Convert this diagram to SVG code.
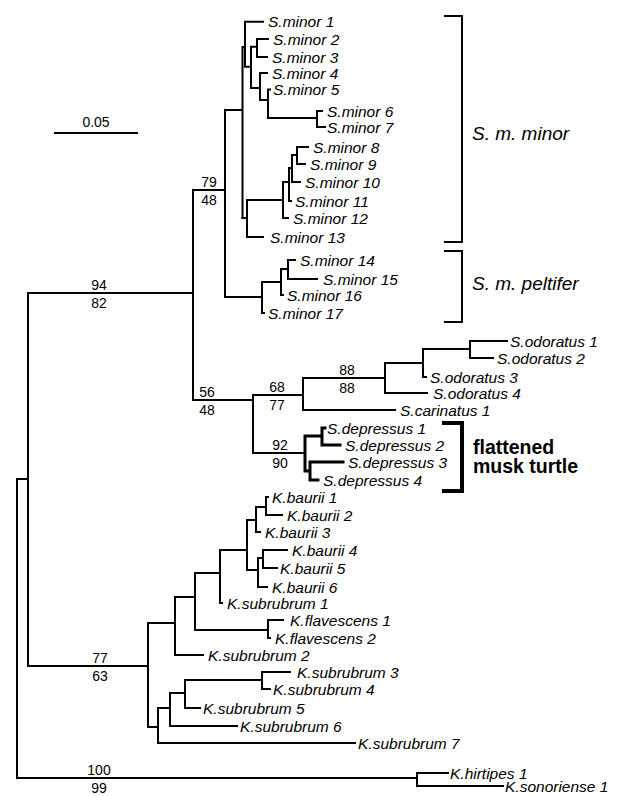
<svg xmlns="http://www.w3.org/2000/svg" width="624" height="796" viewBox="0 0 624 796">
<style>
.t{font-family:"Liberation Sans",Arial,sans-serif;font-size:15.5px;font-style:italic;fill:#000}
.b{font-family:"Liberation Sans",Arial,sans-serif;font-size:14px;fill:#000;text-anchor:middle}
.c{font-family:"Liberation Sans",Arial,sans-serif;font-size:19px;font-style:italic;fill:#000}
.f{font-family:"Liberation Sans",Arial,sans-serif;font-size:19.5px;font-weight:bold;fill:#000}
.e{fill:none;stroke:#000;stroke-width:2;stroke-linecap:square}
.k{fill:none;stroke:#000;stroke-width:3;stroke-linecap:square}
</style>
<rect width="624" height="796" fill="#fff"/>
<g id="connectors">
<path class="e" d="M17,479V778M17,479H28M28,293V666M28,293H193M28,666H148M17,778H417M417,773V786M417,773H448M417,786H503"/>
<path class="e" d="M193,190V400M193,190H225M225,110V297M225,110H242.5M242.5,47V218M242.5,47H245M245,21.7V66.7M245,21.7H263M245,66.7H251M251,46.7V88M251,46.7H257M257,39V57M257,39H268M257,57H267M251,88H260M260,73V100M260,73H267M260,100H268M268,89.5V118M268,89.5H270M268,118H317M317,111V127M317,111H322M317,127H325"/>
<path class="e" d="M242.5,218H247M247,200V237M247,237H263M247,200H283M283,182V218M283,218H288M283,182H289M289,168V201M289,201H291M289,168H292M292,155V182M292,182H300M292,155H297M297,147V164M297,147H308M297,164H305"/>
<path class="e" d="M225,297H262M262,282V313M262,313H264M262,282H281M281,269V295M281,295H283M281,269H288M288,260V279M288,260H295M288,279H317"/>
<path class="e" d="M193,400H253M253,395V453M253,395H303M303,378V410M303,410H395M303,378H385M385,363V393M385,393H427M385,363H423M423,349V377M423,377H426M423,349H470M470,341V358M470,341H507M470,358H493M253,453H305"/>
<path class="k" d="M305,436V471M305,436H322M322,428V445M322,428H325M322,445H340M305,471H310M310,462V480M310,462H343M310,480H318"/>
<path class="e" d="M148,623V727M148,623H175M175,597V655M175,655H203M175,597H195M195,573V630M195,630H268M268,620V638M268,620H283M268,638H270M195,573H220M220,550V603M220,603H222M220,550H247M247,520V570M247,520H256M256,507V532M256,532H260M256,507H266M266,497V515M266,497H268M266,515H282M247,570H258M258,558V587M258,587H267M258,558H263M263,550V568M263,550H287M263,568H277"/>
<path class="e" d="M148,727H158M158,708V743M158,743H355M158,708H170M170,693V726M170,726H237M170,693H185M185,680V708M185,708H200M185,680H262M262,672V689M262,672H290M262,689H270"/>
<path class="e" d="M445,16H462V242H445M445,251H462V322H445"/>
<path fill="none" stroke="#000" stroke-width="4" d="M442,423H462V491H442"/>
<path class="e" d="M55,133H137"/>
</g>
<g id="scale"><text class="b" x="96" y="127">0.05</text></g>
<g id="bs94"><text class="b" x="99" y="290">94</text><text class="b" x="99" y="308">82</text></g>
<g id="bs79"><text class="b" x="209" y="187">79</text><text class="b" x="209" y="205">48</text></g>
<g id="bs56"><text class="b" x="207" y="397">56</text><text class="b" x="207" y="415">48</text></g>
<g id="bs68"><text class="b" x="277" y="392">68</text><text class="b" x="277" y="410">77</text></g>
<g id="bs88"><text class="b" x="347" y="375">88</text><text class="b" x="347" y="393">88</text></g>
<g id="bs92"><text class="b" x="280" y="450">92</text><text class="b" x="280" y="468">90</text></g>
<g id="bs77"><text class="b" x="100" y="663">77</text><text class="b" x="100" y="681">63</text></g>
<g id="bs100"><text class="b" x="99" y="775">100</text><text class="b" x="99" y="793">99</text></g>
<g id="tip-sminor1"><text class="t" x="268" y="27.2">S.minor 1</text></g>
<g id="tip-sminor2"><text class="t" x="273" y="44.5">S.minor 2</text></g>
<g id="tip-sminor3"><text class="t" x="272" y="62.5">S.minor 3</text></g>
<g id="tip-sminor4"><text class="t" x="272" y="78.5">S.minor 4</text></g>
<g id="tip-sminor5"><text class="t" x="273" y="95">S.minor 5</text></g>
<g id="tip-sminor6"><text class="t" x="327" y="116.5">S.minor 6</text></g>
<g id="tip-sminor7"><text class="t" x="327" y="132.5">S.minor 7</text></g>
<g id="tip-sminor8"><text class="t" x="313" y="152.5">S.minor 8</text></g>
<g id="tip-sminor9"><text class="t" x="310" y="169.5">S.minor 9</text></g>
<g id="tip-sminor10"><text class="t" x="305" y="187.5">S.minor 10</text></g>
<g id="tip-sminor11"><text class="t" x="295" y="206.5">S.minor 11</text></g>
<g id="tip-sminor12"><text class="t" x="293" y="223.5">S.minor 12</text></g>
<g id="tip-sminor13"><text class="t" x="270" y="242.5">S.minor 13</text></g>
<g id="tip-sminor14"><text class="t" x="300" y="265.5">S.minor 14</text></g>
<g id="tip-sminor15"><text class="t" x="323" y="284.5">S.minor 15</text></g>
<g id="tip-sminor16"><text class="t" x="287" y="300.5">S.minor 16</text></g>
<g id="tip-sminor17"><text class="t" x="268" y="318.5">S.minor 17</text></g>
<g id="tip-sodoratus1"><text class="t" x="510" y="346.5">S.odoratus 1</text></g>
<g id="tip-sodoratus2"><text class="t" x="497" y="363.5">S.odoratus 2</text></g>
<g id="tip-sodoratus3"><text class="t" x="430" y="382.5">S.odoratus 3</text></g>
<g id="tip-sodoratus4"><text class="t" x="433" y="398.5">S.odoratus 4</text></g>
<g id="tip-scarinatus1"><text class="t" x="400" y="415.5">S.carinatus 1</text></g>
<g id="tip-sdepressus1"><text class="t" x="327" y="433.5">S.depressus 1</text></g>
<g id="tip-sdepressus2"><text class="t" x="345" y="450.5">S.depressus 2</text></g>
<g id="tip-sdepressus3"><text class="t" x="348" y="467.5">S.depressus 3</text></g>
<g id="tip-sdepressus4"><text class="t" x="323" y="485.5">S.depressus 4</text></g>
<g id="tip-kbaurii1"><text class="t" x="272" y="502.5">K.baurii 1</text></g>
<g id="tip-kbaurii2"><text class="t" x="287" y="520.5">K.baurii 2</text></g>
<g id="tip-kbaurii3"><text class="t" x="265" y="537.5">K.baurii 3</text></g>
<g id="tip-kbaurii4"><text class="t" x="292" y="555.5">K.baurii 4</text></g>
<g id="tip-kbaurii5"><text class="t" x="280" y="573.5">K.baurii 5</text></g>
<g id="tip-kbaurii6"><text class="t" x="272" y="592.5">K.baurii 6</text></g>
<g id="tip-ksubrubrum1"><text class="t" x="227" y="608.5">K.subrubrum 1</text></g>
<g id="tip-kflavescens1"><text class="t" x="290" y="625.5">K.flavescens 1</text></g>
<g id="tip-kflavescens2"><text class="t" x="275" y="643.5">K.flavescens 2</text></g>
<g id="tip-ksubrubrum2"><text class="t" x="208" y="660.5">K.subrubrum 2</text></g>
<g id="tip-ksubrubrum3"><text class="t" x="297" y="677.5">K.subrubrum 3</text></g>
<g id="tip-ksubrubrum4"><text class="t" x="273" y="694.5">K.subrubrum 4</text></g>
<g id="tip-ksubrubrum5"><text class="t" x="203" y="713.5">K.subrubrum 5</text></g>
<g id="tip-ksubrubrum6"><text class="t" x="240" y="731.5">K.subrubrum 6</text></g>
<g id="tip-ksubrubrum7"><text class="t" x="358" y="748.5">K.subrubrum 7</text></g>
<g id="tip-khirtipes1"><text class="t" x="450" y="778.5">K.hirtipes 1</text></g>
<g id="tip-ksonoriense1"><text class="t" x="505" y="791.5">K.sonoriense 1</text></g>
<g id="label-smminor"><text class="c" x="472" y="140">S. m. minor</text></g>
<g id="label-smpeltifer"><text class="c" x="472" y="290">S. m. peltifer</text></g>
<g id="label-flattened"><text class="f" x="473" y="454">flattened</text><text class="f" x="473" y="473">musk turtle</text></g>
</svg>
